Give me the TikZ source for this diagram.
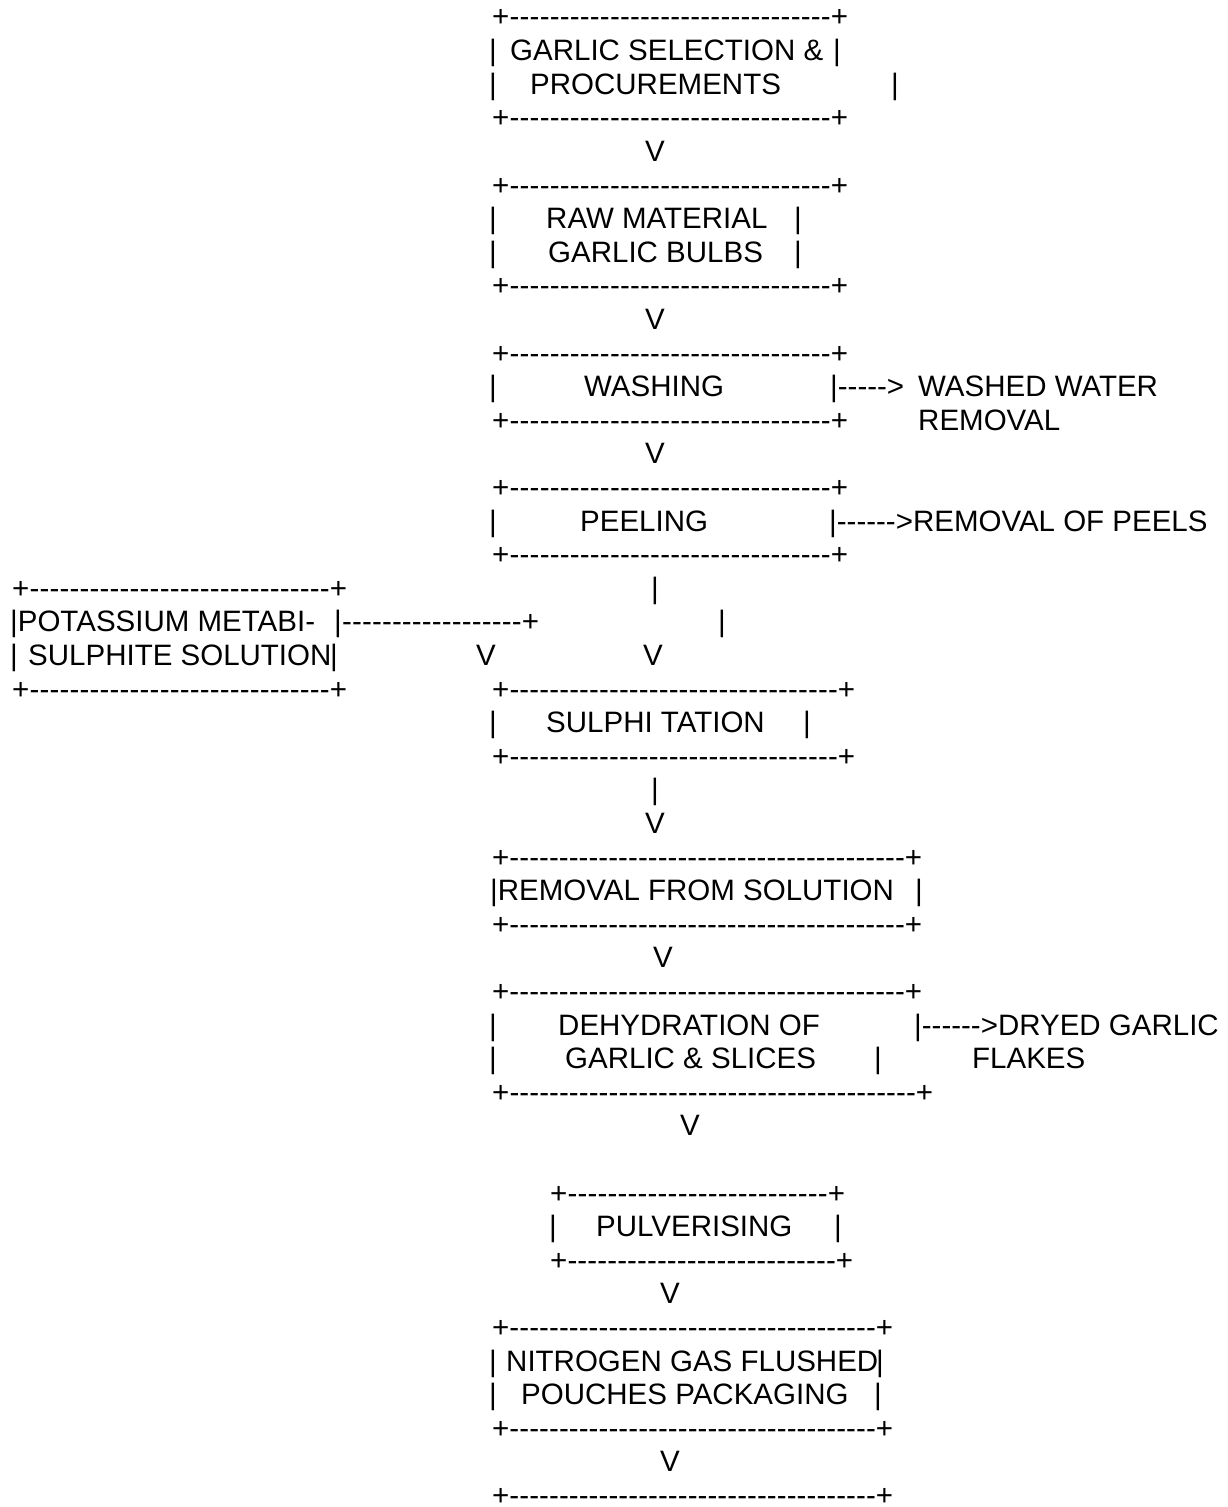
\documentclass[tikz,border=0pt]{standalone}
\usepackage{fontspec}
\newfontfamily\asciifont{Liberation Sans}
\newcommand\plusrow[1]{\hbox to #1pt{+\xleaders\hbox{-}\hfill+}}
\newcommand\linkrow[1]{\hbox to #1pt{|\xleaders\hbox{-}\hfill+}}
\newcommand\dashes[1]{\foreach\i in {1,...,#1}{\hbox{-}}}

\begin{document}
\begin{tikzpicture}[
  x=1pt,y=-33.6pt,
  ascii/.style={inner sep=0pt,yshift=-27pt,font=\asciifont\fontsize{29.5pt}{33.6pt}\selectfont},
  word/.style={ascii,anchor=base west},
  glyph/.style={ascii,anchor=base}
]
\useasboundingbox (0,0) rectangle (1227,{1507/33.6});
% garlic selection
\node[word] (sel-t) at (492,0) {\plusrow{356}};
\node[glyph] (sel-l1) at (493,1) {|};
\node[word] (sel-1) at (510,1) {GARLIC SELECTION \&};
\node[glyph] (sel-r1) at (837,1) {|};
\node[glyph] (sel-l2) at (493,2) {|};
\node[word] (sel-2) at (530,2) {PROCUREMENTS};
\node[glyph] (sel-r2) at (895,2) {|};
\node[word] (sel-b) at (492,3) {\plusrow{356}};
\node[glyph] (v1) at (655,4) {V};
% raw material
\node[word] (raw-t) at (492,5) {\plusrow{356}};
\node[glyph] (raw-l1) at (493,6) {|};
\node[word] (raw-1) at (546,6) {RAW MATERIAL};
\node[glyph] (raw-r1) at (798,6) {|};
\node[glyph] (raw-l2) at (493,7) {|};
\node[word] (raw-2) at (548,7) {GARLIC BULBS};
\node[glyph] (raw-r2) at (798,7) {|};
\node[word] (raw-b) at (492,8) {\plusrow{356}};
\node[glyph] (v2) at (655,9) {V};
% washing
\node[word] (wash-t) at (492,10) {\plusrow{356}};
\node[glyph] (wash-l) at (493,11) {|};
\node[word] (wash) at (584,11) {WASHING};
\node[word] (wash-out) at (830,11) {|\dashes{5}>};
\node[word] (water-1) at (918,11) {WASHED WATER};
\node[word] (wash-b) at (492,12) {\plusrow{356}};
\node[word] (water-2) at (918,12) {REMOVAL};
\node[glyph] (v3) at (655,13) {V};
% peeling
\node[word] (peel-t) at (492,14) {\plusrow{356}};
\node[glyph] (peel-l) at (493,15) {|};
\node[word] (peel) at (580,15) {PEELING};
\node[word] (peel-out) at (829,15) {|\dashes{6}>REMOVAL OF PEELS};
\node[word] (peel-b) at (492,16) {\plusrow{356}};
\node[glyph] (peel-down) at (655,17) {|};
% potassium metabisulphite
\node[word] (kms-t) at (12,17) {\plusrow{335}};
\node[word] (kms-1) at (10,18) {|POTASSIUM METABI-};
\node[word] (kms-link) at (334,18) {\linkrow{205}};
\node[glyph] (kms-side) at (722,18) {|};
\node[glyph] (kms-l2) at (14,19) {|};
\node[word] (kms-2) at (28,19) {SULPHITE SOLUTION};
\node[glyph] (kms-r2) at (334,19) {|};
\node[glyph] (v4) at (486,19) {V};
\node[glyph] (v5) at (653,19) {V};
\node[word] (kms-b) at (12,20) {\plusrow{335}};
% sulphitation
\node[word] (sul-t) at (492,20) {\plusrow{363}};
\node[glyph] (sul-l) at (493,21) {|};
\node[word] (sul) at (546,21) {SULPHI TATION};
\node[glyph] (sul-r) at (807,21) {|};
\node[word] (sul-b) at (492,22) {\plusrow{363}};
\node[glyph] (sul-down) at (655,23) {|};
\node[glyph] (v6) at (655,24) {V};
% removal from solution
\node[word] (rem-t) at (492,25) {\plusrow{430}};
\node[word] (rem) at (490,26) {|REMOVAL FROM SOLUTION};
\node[glyph] (rem-r) at (919,26) {|};
\node[word] (rem-b) at (492,27) {\plusrow{430}};
\node[glyph] (v7) at (663,28) {V};
% dehydration
\node[word] (dry-t) at (492,29) {\plusrow{430}};
\node[glyph] (dry-l1) at (493,30) {|};
\node[word] (dry-1) at (558,30) {DEHYDRATION OF};
\node[word] (dry-out) at (914,30) {|\dashes{6}>DRYED GARLIC};
\node[glyph] (dry-l2) at (493,31) {|};
\node[word] (dry-2) at (565,31) {GARLIC \& SLICES};
\node[glyph] (dry-r2) at (878,31) {|};
\node[word] (flakes) at (972,31) {FLAKES};
\node[word] (dry-b) at (492,32) {\plusrow{441}};
\node[glyph] (v8) at (690,33) {V};
% pulverising
\node[word] (pul-t) at (550,35) {\plusrow{295}};
\node[glyph] (pul-l) at (553,36) {|};
\node[word] (pul) at (596,36) {PULVERISING};
\node[glyph] (pul-r) at (838,36) {|};
\node[word] (pul-b) at (550,37) {\plusrow{303}};
\node[glyph] (v9) at (670,38) {V};
% packaging
\node[word] (pack-t) at (492,39) {\plusrow{401}};
\node[glyph] (pack-l1) at (493,40) {|};
\node[word] (pack-1) at (506,40) {NITROGEN GAS FLUSHED};
\node[glyph] (pack-r1) at (880,40) {|};
\node[glyph] (pack-l2) at (493,41) {|};
\node[word] (pack-2) at (521,41) {POUCHES PACKAGING};
\node[glyph] (pack-r2) at (878,41) {|};
\node[word] (pack-b) at (492,42) {\plusrow{401}};
\node[glyph] (v10) at (670,43) {V};
\node[word] (last-t) at (492,44) {\plusrow{401}};
\end{tikzpicture}
\end{document}
